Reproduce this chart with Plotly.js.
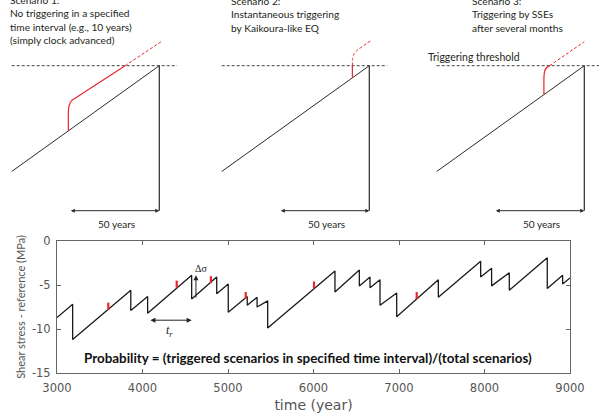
<!DOCTYPE html>
<html>
<head>
<meta charset="utf-8">
<script src="https://cdn.plot.ly/plotly-3.0.1.min.js"></script>
<style>html,body{margin:0;padding:0;background:#fff;}#chart{width:599px;height:417px;}</style>
</head>
<body>
<div id="chart"></div>
<script>
// ---------- Bottom chart data (time in years, stress in MPa) ----------
const sawYears  = [3000, 3183, 3183, 3863, 3863, 4060, 4060, 4575, 4575, 4868, 4868, 5003, 5003,
                   5225, 5225, 5340, 5340, 5464, 5464, 6251, 6251, 6536, 6536, 6661, 6661,
                   6778, 6778, 6973, 6973, 7460, 7460, 7955, 7955, 8083, 8083, 8290, 8290,
                   8734, 8734, 8914, 8914, 9000];
const sawStress = [-8.7, -7.2, -11.2, -5.6, -7.9, -6.3, -8.2, -3.9, -6.6, -4.1, -6.0, -4.9, -8.1,
                   -6.3, -7.3, -6.4, -7.5, -6.8, -9.9, -3.4, -5.8, -3.3, -5.1, -4.1, -5.3,
                   -4.4, -7.3, -5.9, -8.6, -4.4, -6.4, -2.3, -4.1, -3.1, -5.1, -3.6, -5.6,
                   -1.9, -5.4, -3.9, -4.9, -4.2];
const redYears = [3600, 4400, 4800, 5207, 6006, 7207];
const redLow   = [-7.8, -5.3, -4.8, -6.6, -5.4, -6.6];
const redHigh  = [-7.0, -4.5, -4.0, -5.8, -4.6, -5.8];
const xTicks = [3000, 4000, 5000, 6000, 7000, 8000, 9000];
const yTicks = [0, -5, -10, -15];
const trStart = 4075, trEnd = 4575, trLevel = -9.0;
const dsYear = 4625, dsLow = -6.6, dsHigh = -3.9;

// ---------- Schematic data (t in years relative to failure; stress in "years of loading") ----------
const loadT = [-82, 0], loadS = [-82, 0];
const failT = [0, 0], failS = [0, -112.4];
const threshT = [-82, 10], threshS = [0, 0];
const red1T = [-50.5, -50.5, -50.0, -48.8, -46.8, -19], red1S = [-50.5, -35, -30.5, -27.2, -25.3, 0];
const red1dT = [-19, 1], red1dS = [0, 18.6];
const red2T = [-9.4, -9.4], red2S = [-9.4, 0];
const red2dT = [-9.4, -9.3, -8.7, -7.2, 1.3], red2dS = [0, 5, 8.6, 11.4, 19.9];
const red3T = [-22.4, -22.4, -22.0, -21.0, -19.3], red3S = [-22.4, -8.5, -4.3, -1.6, 0];
const red3dT = [-19.3, 0], red3dS = [0, 18.6];
const spanStart = -50, spanEnd = 0, spanLevel = -112.4, spanLabelLevel = -122.7;
const titles = [
  ["Scenario 1:", "No triggering in a specified", "time interval (e.g., 10 years)", "(simply clock advanced)"],
  ["Scenario 2:", "Instantaneous triggering", "by Kaikoura-like EQ"],
  ["Scenario 3:", "Triggering by SSEs", "after several months"]
];

// ---------- Layout geometry ----------
const W = 599, H = 417;
const pxPerYear = 1.8, pxPerUnit = 1.29, threshPy = 65.7, topBottomPy = 232;
const failPx = [159.3, 369.3, 584.3];
const titleLeftPx = [8.3, 229.3, 470];
const titleCenterPy = [20.1, 14, 14];
const tMin = -86, tMax = 10;

const RED = '#e8262b', DARK = '#2a2a2a';
const traces = [];
// bottom
traces.push({x: sawYears, y: sawStress, type: 'scatter', mode: 'lines',
  line: {color: '#1a1a1a', width: 1.3}, xaxis: 'x', yaxis: 'y', hoverinfo: 'skip'});
redYears.forEach((yr, i) => {
  traces.push({x: [yr, yr], y: [redLow[i], redHigh[i]], type: 'scatter', mode: 'lines',
    line: {color: RED, width: 2.2}, xaxis: 'x', yaxis: 'y', hoverinfo: 'skip'});
});

const layout = {
  width: W, height: H, margin: {l: 0, r: 0, t: 0, b: 0},
  paper_bgcolor: '#fff', plot_bgcolor: 'rgba(0,0,0,0)', showlegend: false,
  font: {family: 'Lato', color: '#231f20'},
  xaxis: {domain: [57 / W, 570 / W], range: [3000, 9000], tickvals: xTicks, ticktext: xTicks.map(String),
    ticks: 'inside', ticklen: 4, tickcolor: '#666', mirror: 'ticks', showline: true, linecolor: '#666', linewidth: 1,
    showgrid: false, zeroline: false, anchor: 'y', ticklabelstandoff: 4,
    tickfont: {family: 'DejaVu Sans', size: 11.5, color: '#555'},
    title: {text: 'time (year)', font: {family: 'DejaVu Sans', size: 14, color: '#555'}, standoff: 6}},
  yaxis: {domain: [(H - 373) / H, (H - 241) / H], range: [-15, 0], tickvals: yTicks, ticktext: yTicks.map(String),
    ticks: 'inside', ticklen: 4, tickcolor: '#666', mirror: 'ticks', showline: true, linecolor: '#666', linewidth: 1,
    showgrid: false, zeroline: false, anchor: 'x', ticklabelstandoff: 3,
    tickfont: {family: 'DejaVu Sans', size: 11.5, color: '#555'},
    title: {text: 'Shear stress - reference (MPa)', font: {family: 'Lato', size: 11, color: '#555'}, standoff: 4}},
  annotations: [], shapes: []
};

layout.annotations.push({x: trEnd, y: trLevel, ax: trStart, ay: trLevel, xref: 'x', yref: 'y', axref: 'x', ayref: 'y',
  showarrow: true, arrowside: 'end+start', arrowhead: 2, arrowsize: 1, arrowwidth: 1, arrowcolor: '#222', text: ''});
layout.annotations.push({x: (trStart + trEnd) / 2 - 5, y: trLevel - 1.2, xref: 'x', yref: 'y', showarrow: false,
  text: '<i>t</i><sub><i>r</i></sub>', font: {family: 'Liberation Serif', size: 12, color: '#222'}});
layout.annotations.push({x: dsYear, y: dsHigh, ax: dsYear, ay: dsLow, xref: 'x', yref: 'y', axref: 'x', ayref: 'y',
  showarrow: true, arrowhead: 2, arrowsize: 1, arrowwidth: 1, arrowcolor: '#222', text: ''});
layout.annotations.push({x: dsYear + 60, y: dsHigh + 0.75, xref: 'x', yref: 'y', showarrow: false,
  text: 'Δσ', font: {family: 'Liberation Serif', size: 10, color: '#222'}});
layout.annotations.push({x: 5935, y: -13.3, xref: 'x', yref: 'y', showarrow: false,
  text: '<b>Probability = (triggered scenarios in specified time interval)/(total scenarios)</b>',
  font: {family: 'Lato', size: 13.4, color: '#111'}});

// top schematic panels
const yTop = threshPy / pxPerUnit, yBot = -(topBottomPy - threshPy) / pxPerUnit;
const reds = [[red1T, red1S, red1dT, red1dS], [red2T, red2S, red2dT, red2dS], [red3T, red3S, red3dT, red3dS]];
for (let i = 0; i < 3; i++) {
  const n = i + 2, xa = 'x' + n, ya = 'y' + n;
  const leftPx = failPx[i] + tMin * pxPerYear;
  const rightPx = Math.min(W, failPx[i] + tMax * pxPerYear);
  layout['xaxis' + n] = {domain: [leftPx / W, rightPx / W], range: [tMin, (rightPx - failPx[i]) / pxPerYear],
    visible: false, anchor: ya, fixedrange: true};
  layout['yaxis' + n] = {domain: [(H - topBottomPy) / H, 1], range: [yBot, yTop], visible: false, anchor: xa, fixedrange: true};
  traces.push({x: threshT, y: threshS, mode: 'lines', line: {color: '#444', width: 1, dash: '3px,2px'}, xaxis: xa, yaxis: ya, hoverinfo: 'skip'});
  traces.push({x: loadT, y: loadS, mode: 'lines', line: {color: DARK, width: 1}, xaxis: xa, yaxis: ya, hoverinfo: 'skip'});
  traces.push({x: failT, y: failS, mode: 'lines', line: {color: DARK, width: 1.2}, xaxis: xa, yaxis: ya, hoverinfo: 'skip'});
  const r = reds[i];
  traces.push({x: r[0], y: r[1], mode: 'lines', line: {color: RED, width: 1.2, shape: 'spline', smoothing: 0.6}, xaxis: xa, yaxis: ya, hoverinfo: 'skip'});
  traces.push({x: r[2], y: r[3], mode: 'lines', line: {color: RED, width: 1.0, dash: '3px,2px', shape: 'spline', smoothing: 0.6}, xaxis: xa, yaxis: ya, hoverinfo: 'skip'});
  layout.annotations.push({x: spanEnd, y: spanLevel, ax: spanStart, ay: spanLevel, xref: xa, yref: ya, axref: xa, ayref: ya,
    showarrow: true, arrowside: 'end+start', arrowhead: 2, arrowsize: 0.8, arrowwidth: 1, arrowcolor: DARK, text: ''});
  layout.annotations.push({x: (spanStart + spanEnd) / 2 + 1, y: spanLabelLevel, xref: xa, yref: ya, showarrow: false,
    text: '50 years', font: {family: 'Lato', size: 10, color: '#231f20'}});
  layout.annotations.push({x: titleLeftPx[i] / W, y: 1 - titleCenterPy[i] / H, xref: 'paper', yref: 'paper',
    xanchor: 'left', yanchor: 'middle', align: 'left', showarrow: false, text: titles[i].join('<br>'),
    font: {family: 'Lato', size: 10.2, color: '#231f20'}});
}
layout.annotations.push({x: 426 / W, y: 1 - 56.7 / H, xref: 'paper', yref: 'paper', xanchor: 'left', yanchor: 'middle',
  showarrow: false, text: 'Triggering threshold', font: {family: 'Lato', size: 10.5, color: '#231f20'}});

Plotly.newPlot('chart', traces, layout, {staticPlot: true, displayModeBar: false});
</script>
</body>
</html>
